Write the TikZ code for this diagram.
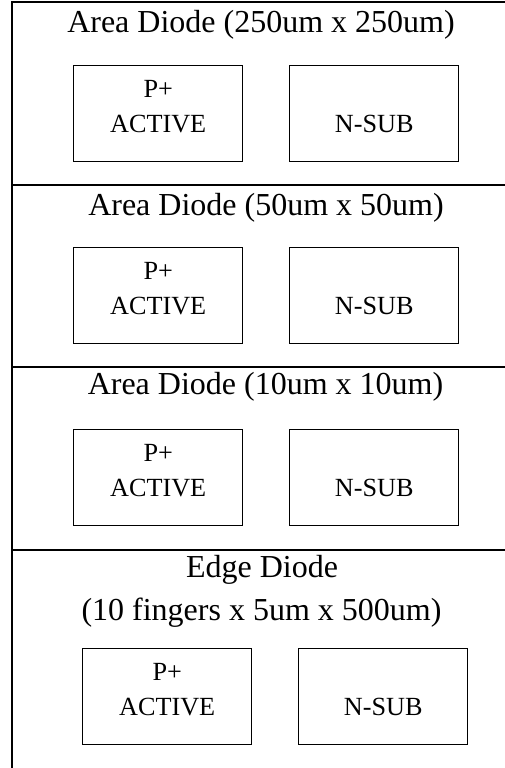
\documentclass[tikz,border=0pt]{standalone}
\usepackage{fontspec}
\setmainfont{Liberation Serif}
\begin{document}
\begin{tikzpicture}[x=1pt,y=-1pt,
  frameline/.style={line width=2pt, line cap=rect},
  padbox/.style={draw, line width=1.4pt, minimum width=169pt, minimum height=96pt, inner sep=0pt, anchor=north west},
  title/.style={font=\fontsize{32}{43}\selectfont, anchor=base, inner sep=0pt},
  lbl/.style={font=\fontsize{26.2}{35}\selectfont, anchor=base, inner sep=0pt}]
\useasboundingbox (0,0) rectangle (504,768);
% frame
\coordinate (tl) at (12,2);
\coordinate (tr) at (504,2);
\coordinate (bl) at (12,768);
\draw[frameline] (bl) -- (tl) -- (tr);
\foreach \s/\yy in {1/185,2/367,3/550}{
  \coordinate (s\s l) at (12,\yy);
  \coordinate (s\s r) at (504,\yy);
  \draw[frameline] (s\s l) -- (s\s r);
}
% titles
\node[title] (t1) at (261,33) {Area Diode (250um x 250um)};
\node[title] (t2) at (266,215) {Area Diode (50um x 50um)};
\node[title] (t3) at (265.5,394) {Area Diode (10um x 10um)};
\node[title] (t4a) at (262,577) {Edge Diode};
\node[title] (t4b) at (261.5,620) {(10 fingers x 5um x 500um)};
% boxes
\foreach \i/\bx/\by in {1/73/65,2/73/247,3/73/429,4/82/648}{
  \node[padbox] (p\i) at (\bx,\by) {};
  \node[padbox] (n\i) at (\bx+216,\by) {};
  \node[lbl] (pp\i) at ([yshift=-32pt]p\i.north) {P+};
  \node[lbl] (pa\i) at ([yshift=-67pt]p\i.north) {ACTIVE};
  \node[lbl] (ns\i) at ([yshift=-67pt]n\i.north) {N-SUB};
}
\end{tikzpicture}
\end{document}
